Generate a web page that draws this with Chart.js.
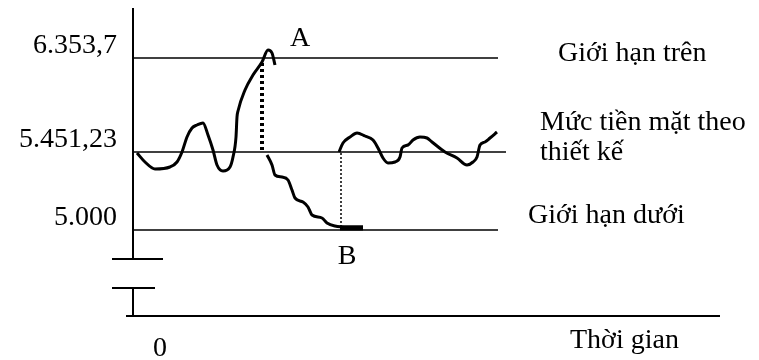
<!DOCTYPE html>
<html lang="vi">
<head>
<meta charset="utf-8">
<title>Mô hình Miller-Orr</title>
<script src="https://cdn.jsdelivr.net/npm/chart.js@4.4.1/dist/chart.umd.min.js"></script>
<style>
  html, body { margin: 0; padding: 0; background: #fff; }
  #wrap { width: 759px; height: 360px; position: relative; }
</style>
</head>
<body>
<div id="wrap"><canvas id="cashChart"></canvas></div>
<script>
// Các mức tiền (đơn vị sơ đồ, không theo tỉ lệ)
const tickValues = [86, 164, 258];
const tickLabels = ["5.000", "5.451,23", "6.353,7"];
const lowerLimit = 86;
const targetLevel = 164;
const upperLimit = 258;

// độ dài các đường giới hạn theo trục thời gian
const limitEnd = 365;
const targetEnd = 373;

// đoạn dao động đi lên tới A
const riseX = [4, 12, 22, 37, 44, 49, 54, 59, 64, 70, 75, 80, 84, 90, 97, 100, 103, 104, 105, 112, 120, 129, 135, 139, 142];
const riseY = [163, 154, 147, 149, 154, 164, 179, 188, 191, 193, 181, 166, 151, 145, 149, 159, 179, 199, 205, 226, 241, 254, 266, 263, 251];

// đoạn giảm dần xuống B
const fallX = [134, 139, 142, 149, 155, 159, 162, 170, 175, 179, 189, 194, 202, 215, 230];
const fallY = [161, 151, 141, 139, 136, 126, 118, 114, 109, 101, 98, 93, 90, 89, 89];

// đoạn dao động sau khi về lại mức thiết kế
const restX = [206, 210, 217, 224, 232, 240, 245, 250, 255, 262, 267, 269, 275, 280, 287, 294, 299, 312, 324, 334, 340, 344, 347, 352, 357, 364];
const restY = [164, 173, 179, 183, 180, 176, 168, 158, 153, 154, 159, 168, 171, 176, 179, 178, 174, 164, 158, 151, 154, 159, 171, 174, 178, 184];

// điểm chạm A, B
const pointA = { x: 129, y: 253 };
const pointB = { x: 208, y: 89 };
const touchB = [207, 230];

const serif = "'Liberation Serif', 'Times New Roman', serif";

function pts(xs, ys) {
  return xs.map((x, i) => ({ x: x, y: ys[i] }));
}

function lineSet(data, extra) {
  return Object.assign({
    data: data,
    borderColor: "#000",
    borderWidth: 1.6,
    pointRadius: 0,
    fill: false,
    tension: 0,
  }, extra || {});
}

// vẽ trục (có chỗ ngắt) và chữ chú thích
const decorPlugin = {
  id: "decor",
  afterDraw(chart) {
    const ctx = chart.ctx;
    const xs = chart.scales.x;
    const ys = chart.scales.y;
    const area = chart.chartArea;
    const x0 = xs.getPixelForValue(0);
    const yBreakTop = ys.getPixelForValue(57);
    const yBreakBottom = ys.getPixelForValue(28);

    ctx.save();
    ctx.strokeStyle = "#000";
    ctx.lineWidth = 2;
    ctx.beginPath();
    // trục tung
    ctx.moveTo(x0, area.top);
    ctx.lineTo(x0, yBreakTop);
    ctx.moveTo(x0 - 21, yBreakTop);
    ctx.lineTo(x0 + 30, yBreakTop);
    ctx.moveTo(x0 - 21, yBreakBottom);
    ctx.lineTo(x0 + 22, yBreakBottom);
    ctx.moveTo(x0, yBreakBottom);
    ctx.lineTo(x0, area.bottom);
    // trục hoành
    ctx.moveTo(x0 - 7, area.bottom);
    ctx.lineTo(area.right, area.bottom);
    ctx.stroke();

    ctx.fillStyle = "#000";
    ctx.font = "28px " + serif;
    ctx.textBaseline = "alphabetic";
    ctx.textAlign = "left";
    ctx.fillText("Giới hạn trên", 558, ys.getPixelForValue(upperLimit) + 3);
    ctx.fillText("Mức tiền mặt theo", 540, ys.getPixelForValue(targetLevel) - 22);
    ctx.fillText("thiết kế", 540, ys.getPixelForValue(targetLevel) + 8);
    ctx.fillText("Giới hạn dưới", 528, ys.getPixelForValue(lowerLimit) - 7);
    ctx.fillText("Thời gian", 570, area.bottom + 32);

    ctx.textAlign = "center";
    ctx.fillText("A", xs.getPixelForValue(pointA.x) + 38, ys.getPixelForValue(pointA.y) - 17);
    ctx.fillText("B", xs.getPixelForValue(pointB.x) + 6, ys.getPixelForValue(pointB.y) + 37);
    ctx.restore();
  },
};

document.addEventListener("DOMContentLoaded", function () {
  const ctx = document.getElementById("cashChart").getContext("2d");

  new Chart(ctx, {
    type: "line",
    data: {
      datasets: [
        lineSet([{ x: 0, y: upperLimit }, { x: limitEnd, y: upperLimit }]),
        lineSet([{ x: 0, y: targetLevel }, { x: targetEnd, y: targetLevel }]),
        lineSet([{ x: 0, y: lowerLimit }, { x: limitEnd, y: lowerLimit }]),
        lineSet(pts(riseX, riseY), { borderWidth: 3, cubicInterpolationMode: "monotone" }),
        lineSet(pts(fallX, fallY), { borderWidth: 3, cubicInterpolationMode: "monotone" }),
        lineSet(pts(restX, restY), { borderWidth: 3, cubicInterpolationMode: "monotone" }),
        lineSet([{ x: touchB[0], y: 88 }, { x: touchB[1], y: 88 }], { borderWidth: 5 }),
        lineSet([pointA, { x: pointA.x, y: targetLevel }], { borderWidth: 4, borderDash: [3, 3] }),
        lineSet([{ x: pointB.x, y: targetLevel - 1 }, pointB], { borderWidth: 1.5, borderDash: [2, 2] }),
      ],
    },
    options: {
      responsive: true,
      maintainAspectRatio: false,
      animation: false,
      layout: { padding: { top: 8, right: 39, left: 0, bottom: 0 } },
      plugins: {
        legend: { display: false },
        tooltip: { enabled: false },
      },
      scales: {
        x: {
          type: "linear",
          min: 0,
          max: 587,
          grid: { display: false, drawTicks: false },
          border: { display: false },
          afterBuildTicks: (s) => { s.ticks = [{ value: 0 }]; },
          afterFit: (s) => {
            s.height = 44;
            s.paddingLeft = 0;
            s.paddingRight = 0;
          },
          ticks: {
            color: "#000",
            font: { family: serif, size: 28 },
            padding: 16,
            labelOffset: 27,
            maxRotation: 0,
            autoSkip: false,
            callback: () => "0",
          },
        },
        y: {
          type: "linear",
          min: 0,
          max: 308,
          grid: { display: false, drawTicks: false },
          border: { display: false },
          afterBuildTicks: (s) => { s.ticks = tickValues.map((v) => ({ value: v })); },
          afterFit: (s) => {
            s.width = 133;
            s.paddingTop = 0;
            s.paddingBottom = 0;
          },
          ticks: {
            color: "#000",
            font: { family: serif, size: 28 },
            padding: 16,
            labelOffset: -12,
            autoSkip: false,
            callback: (v) => tickLabels[tickValues.indexOf(v)],
          },
        },
      },
    },
    plugins: [decorPlugin],
  });
});
</script>
</body>
</html>
